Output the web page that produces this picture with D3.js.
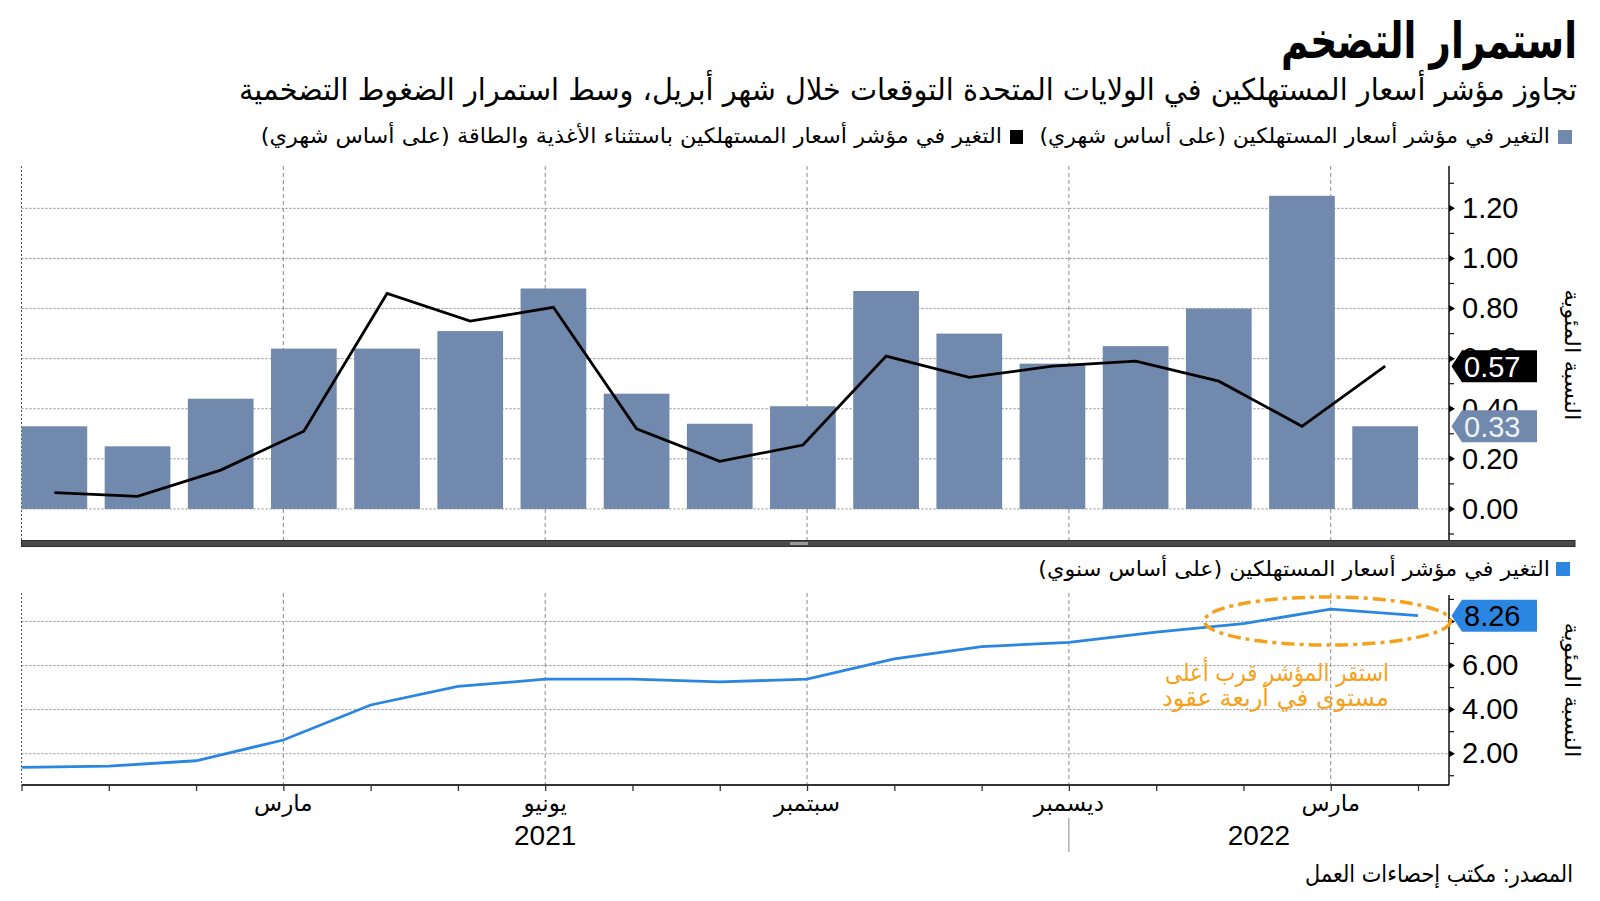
<!DOCTYPE html>
<html><head><meta charset="utf-8">
<script src="https://cdn.jsdelivr.net/npm/d3@7"></script>
<style>body{margin:0;background:#fff}svg{display:block}</style>
</head><body>
<script>
// ---------- DATA ----------
const months = ["2020-12","2021-01","2021-02","2021-03","2021-04","2021-05","2021-06","2021-07","2021-08",
                "2021-09","2021-10","2021-11","2021-12","2022-01","2022-02","2022-03","2022-04"];
const cpiMoM  = [0.33,0.25,0.44,0.64,0.64,0.71,0.88,0.46,0.34,0.41,0.87,0.70,0.58,0.65,0.80,1.25,0.33];
const coreMoM = [0.065,0.05,0.155,0.31,0.86,0.75,0.805,0.32,0.19,0.255,0.61,0.525,0.57,0.59,0.51,0.33,0.57];
const cpiYoY  = [1.38,1.44,1.68,2.62,4.21,5.05,5.38,5.38,5.26,5.38,6.30,6.86,7.05,7.52,7.90,8.56,8.26];
const topTicks = [0,0.2,0.4,0.6,0.8,1.0,1.2];
const topMinor = [-0.1,0.1,0.3,0.5,0.7,0.9,1.1,1.3];
const botTicks = [2,4,6,8];
const botTickLabels = [2,4,6];   // 8.00 is hidden behind the last-value box in the reference
const botMinor = [1,3,5,7,9];
const tickMonths = ["2021-03","2021-06","2021-09","2021-12","2022-03"];
const tickMonthNames = ["مارس","يونيو","سبتمبر","ديسمبر","مارس"];
const years = ["2021","2022"];
const yearBreak = "2021-12";
const lastCpi = "0.33", lastCore = "0.57", lastYoY = "8.26";
const title = "استمرار التضخم";
const subtitle = "تجاوز مؤشر أسعار المستهلكين في الولايات المتحدة التوقعات خلال شهر أبريل، وسط استمرار الضغوط التضخمية";
const legCpi = "التغير في مؤشر أسعار المستهلكين (على أساس شهري)";
const legCore = "التغير في مؤشر أسعار المستهلكين باستثناء الأغذية والطاقة (على أساس شهري)";
const legYoY = "التغير في مؤشر أسعار المستهلكين (على أساس سنوي)";
const yTitle = "النسبة المئوية";
const note1 = "استقر المؤشر قرب أعلى", note2 = "مستوى في أربعة عقود";
const source = "المصدر: مكتب إحصاءات العمل";

// ---------- SETUP ----------
const AR = "'DejaVu Sans', sans-serif";
const NUM = "'Liberation Sans', Arial, sans-serif";
const C_BAR = "#7089ad", C_BLUE = "#2b86e2", C_OR = "#f5a11c";
const svg = d3.select("body").append("svg").attr("width",1600).attr("height",901);
const L = 21.5, R = 1449;

const x  = d3.scalePoint().domain(months).range([L, 1418]);
const xb = d3.scaleBand().domain(months).range([L, 1418]).paddingInner(0.21).paddingOuter(0);
const yT = d3.scaleLinear().domain([-0.124, 1.369]).range([540, 166]);
const yB = d3.scaleLinear().domain([0.58, 9.2]).range([785, 595]);

function arText(parent, str, o) {
  const g = parent.append("g").attr("transform", `translate(${o.x},${o.y})` + (o.rot ? ` rotate(${o.rot})` : ""));
  const t = g.append("text").attr("text-anchor", o.anchor || "end")
    .attr("font-family", AR).attr("font-size", o.size).attr("font-weight", o.weight || "normal")
    .attr("fill", o.fill || "#000").text("\u200F" + str + "\u200F");
  if (o.dy) t.attr("dy", o.dy);
  if (o.width) {
    const w = t.node().getComputedTextLength();
    t.attr("transform", `scale(${o.width / w},1)`);
  }
  return g;
}

// ---------- HEADER ----------
arText(svg, title, {x:1577, y:58, size:50, weight:"bold", width:296});
arText(svg, subtitle, {x:1577, y:100, size:30, width:1339});
svg.append("rect").attr("x",1558).attr("y",130).attr("width",14).attr("height",14).attr("fill",C_BAR);
arText(svg, legCpi, {x:1550, y:143, size:21, width:511});
svg.append("rect").attr("x",1010).attr("y",130).attr("width",13).attr("height",14).attr("fill","#000");
arText(svg, legCore, {x:1002, y:143, size:21, width:742});

// ---------- TOP PANEL ----------
const gTop = svg.append("g");
gTop.selectAll(".hg").data(topTicks).join("line")
  .attr("x1",L).attr("x2",R).attr("y1",d=>yT(d)).attr("y2",d=>yT(d))
  .attr("stroke","#8a8a8a").attr("stroke-width",1).attr("stroke-dasharray","2,2");
gTop.selectAll(".vg").data(tickMonths).join("line")
  .attr("x1",d=>x(d)).attr("x2",d=>x(d)).attr("y1",166).attr("y2",540)
  .attr("stroke","#8a8a8a").attr("stroke-width",1).attr("stroke-dasharray","4,3");
gTop.append("line").attr("x1",L).attr("x2",L).attr("y1",166).attr("y2",540)
  .attr("stroke","#555").attr("stroke-dasharray","2,2");

gTop.selectAll(".bar").data(months).join("rect")
  .attr("x",d=>xb(d)).attr("width",xb.bandwidth())
  .attr("y",(d,i)=>yT(cpiMoM[i])).attr("height",(d,i)=>yT(0)-yT(cpiMoM[i]))
  .attr("fill",C_BAR);

gTop.append("path").datum(coreMoM)
  .attr("d", d3.line().x((d,i)=>xb(months[i])+xb.bandwidth()/2).y(d=>yT(d)))
  .attr("fill","none").attr("stroke","#000").attr("stroke-width",2.8).attr("stroke-linejoin","miter");

// right axis top
const axT = gTop.append("g").attr("transform",`translate(${R},0)`)
  .call(d3.axisRight(yT).tickValues(topTicks).tickSize(0).tickPadding(13).tickFormat(d3.format(".2f")));
axT.select(".domain").remove();
axT.selectAll("text").attr("font-family",NUM).attr("font-size",29).attr("fill","#000");
gTop.append("line").attr("x1",R).attr("x2",R).attr("y1",166).attr("y2",540).attr("stroke","#111").attr("stroke-width",1.5);
gTop.selectAll(".tri").data(topTicks).join("path")
  .attr("d",d=>`M${R},${yT(d)-3.5}L${R+6},${yT(d)}L${R},${yT(d)+3.5}Z`).attr("fill","#000");
gTop.selectAll(".mn").data(topMinor).join("line")
  .attr("x1",R).attr("x2",R+5).attr("y1",d=>yT(d)).attr("y2",d=>yT(d)).attr("stroke","#111").attr("stroke-width",1.2);

function callout(parent, cy, label, fill, tcol) {
  parent.append("path")
    .attr("d",`M1451.5,${cy}L1462,${cy-16}L1537,${cy-16}L1537,${cy+16}L1462,${cy+16}Z`).attr("fill",fill);
  parent.append("text").attr("x",1464).attr("y",cy).attr("dy","0.36em")
    .attr("font-family",NUM).attr("font-size",29).attr("fill",tcol).text(label);
}
callout(gTop, yT(+lastCore), lastCore, "#000", "#fff");
callout(gTop, yT(+lastCpi), lastCpi, C_BAR, "#eef2f8");

arText(svg, yTitle, {x:1572, y:355, size:21, rot:90, anchor:"middle", dy:"0.35em", width:131});

// separator
svg.append("rect").attr("x",L).attr("y",540.5).attr("width",1575-L).attr("height",6).attr("fill","#4a4a4a").attr("stroke","#2e2e2e").attr("stroke-width",1);
svg.append("rect").attr("x",790).attr("y",542).attr("width",18).attr("height",3).attr("fill","#9a9a9a");

// ---------- BOTTOM PANEL ----------
svg.append("rect").attr("x",1556).attr("y",562).attr("width",14).attr("height",14).attr("fill",C_BLUE);
arText(svg, legYoY, {x:1550, y:576, size:21, width:512});

const gBot = svg.append("g");
gBot.selectAll(".hg").data(botTicks).join("line")
  .attr("x1",L).attr("x2",R).attr("y1",d=>yB(d)).attr("y2",d=>yB(d))
  .attr("stroke","#8a8a8a").attr("stroke-width",1).attr("stroke-dasharray","2,2");
gBot.selectAll(".vg").data(tickMonths).join("line")
  .attr("x1",d=>x(d)).attr("x2",d=>x(d)).attr("y1",593).attr("y2",785)
  .attr("stroke","#8a8a8a").attr("stroke-width",1).attr("stroke-dasharray","4,3");
gBot.append("line").attr("x1",L).attr("x2",L).attr("y1",593).attr("y2",785)
  .attr("stroke","#555").attr("stroke-dasharray","2,2");

gBot.append("path").datum(cpiYoY)
  .attr("d", d3.line().x((d,i)=>x(months[i])).y(d=>yB(d)))
  .attr("fill","none").attr("stroke",C_BLUE).attr("stroke-width",2.8);

// x axis
const axX = gBot.append("g").attr("transform","translate(0,785)")
  .call(d3.axisBottom(x).tickSize(6).tickFormat(""));
axX.select(".domain").attr("d",`M${L},0H${R}`).attr("stroke","#333").attr("stroke-width",2);
axX.selectAll(".tick line").attr("stroke","#333").attr("stroke-width",1.3);

tickMonths.forEach((m,i)=>{
  arText(gBot, tickMonthNames[i], {x:x(m), y:811, size:23, anchor:"middle"});
});
const xBreak = x(yearBreak);
gBot.append("line").attr("x1",xBreak).attr("x2",xBreak).attr("y1",818).attr("y2",852).attr("stroke","#888").attr("stroke-width",1);
const yearCenters = [(L + xBreak)/2, (xBreak + R)/2];
years.forEach((yv,i)=>{
  gBot.append("text").attr("x",yearCenters[i]).attr("y",845).attr("text-anchor","middle")
    .attr("font-family",NUM).attr("font-size",28).attr("fill","#000").text(yv);
});

// right axis bottom
const axB = gBot.append("g").attr("transform",`translate(${R},0)`)
  .call(d3.axisRight(yB).tickValues(botTickLabels).tickSize(0).tickPadding(13).tickFormat(d3.format(".2f")));
axB.select(".domain").remove();
axB.selectAll("text").attr("font-family",NUM).attr("font-size",29).attr("fill","#000");
gBot.append("line").attr("x1",R).attr("x2",R).attr("y1",595).attr("y2",785).attr("stroke","#111").attr("stroke-width",1.5);
gBot.selectAll(".tri").data(botTicks).join("path")
  .attr("d",d=>`M${R},${yB(d)-3.5}L${R+6},${yB(d)}L${R},${yB(d)+3.5}Z`).attr("fill","#000");
gBot.selectAll(".mn").data(botMinor).join("line")
  .attr("x1",R).attr("x2",R+5).attr("y1",d=>yB(d)).attr("y2",d=>yB(d)).attr("stroke","#111").attr("stroke-width",1.2);

// annotation
gBot.append("ellipse").attr("cx",1327.5).attr("cy",621).attr("rx",123).attr("ry",24)
  .attr("fill","none").attr("stroke",C_OR).attr("stroke-width",3.5).attr("stroke-dasharray","13,5,4,5");
arText(gBot, note1, {x:1389, y:681, size:24, fill:C_OR, width:224});
arText(gBot, note2, {x:1389, y:706, size:24, fill:C_OR, width:227});

callout(gBot, yB(+lastYoY), lastYoY, C_BLUE, "#000");
arText(svg, yTitle, {x:1572, y:690, size:21, rot:90, anchor:"middle", dy:"0.35em", width:135});

// source
arText(svg, source, {x:1573, y:882, size:24, width:268});
</script>
</body></html>
